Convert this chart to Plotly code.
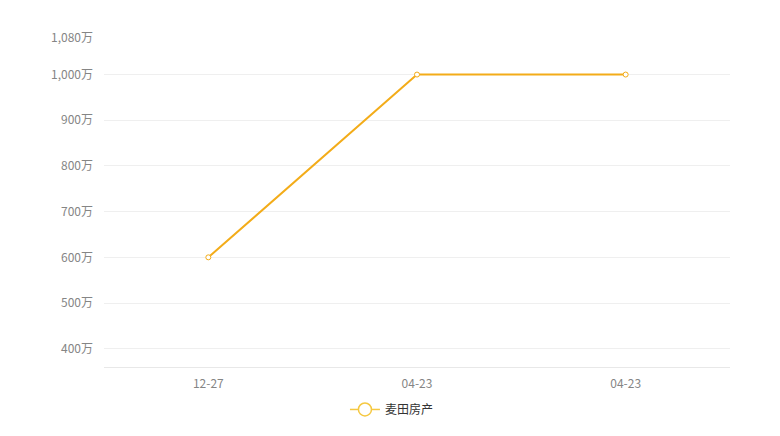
import plotly.graph_objects as go

# data
dates = ["12-27", "04-23", "04-23"]
prices = [600, 1000, 1000]  # 万
series_name = "麦田房产"
y_ticks = [400, 500, 600, 700, 800, 900, 1000, 1080]

line_color = "#f3ac19"
pos = list(range(len(dates)))

fig = go.Figure()

fig.add_trace(go.Scatter(
    x=pos, y=prices,
    mode="lines+markers",
    name=series_name,
    showlegend=False,
    line=dict(color=line_color, width=2),
    marker=dict(size=5, color="white", line=dict(color=line_color, width=1)),
    hovertemplate="%{y}万<extra></extra>",
))

# legend entry with a bigger marker, like the original
fig.add_trace(go.Scatter(
    x=[None], y=[None],
    mode="lines+markers",
    name=series_name,
    line=dict(color="#f5c842", width=1.5),
    marker=dict(size=13, color="white", line=dict(color="#f5c842", width=1.5)),
))

# page body has an 8px margin, so the figure is a bit smaller than the window
fig.update_layout(
    width=772, height=428,
    margin=dict(l=96, r=50, t=30, b=60),
    plot_bgcolor="white",
    paper_bgcolor="white",
    font=dict(family="Noto Sans CJK SC, sans-serif", size=12, color="#858585"),
    legend=dict(
        orientation="h",
        x=0.46, xanchor="center",
        y=-0.085, yanchor="top",
        font=dict(size=12, color="#333333"),
    ),
    xaxis=dict(
        tickmode="array",
        tickvals=pos,
        ticktext=dates,
        range=[-0.5, len(dates) - 0.5],
        showgrid=False,
        zeroline=False,
        showline=True,
        linecolor="#e8e8e8",
        ticks="",
        ticklabelstandoff=6,
    ),
    yaxis=dict(
        range=[360, 1080],
        tickmode="array",
        tickvals=y_ticks,
        ticktext=[f"{v:,}万" for v in y_ticks],
        showgrid=True,
        gridcolor="#efefef",
        zeroline=False,
        ticks="",
        ticklabelstandoff=10,
    ),
)

fig.write_html("out.html")
